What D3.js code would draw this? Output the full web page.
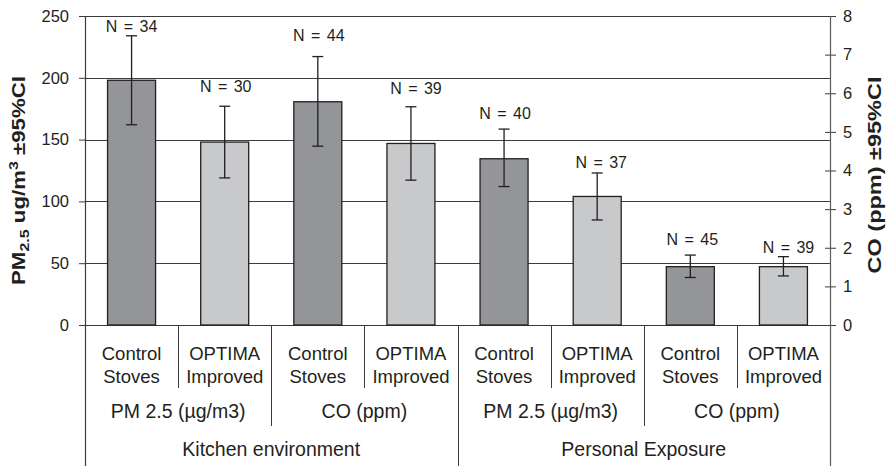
<!DOCTYPE html>
<html>
<head>
<meta charset="utf-8">
<script src="https://cdn.jsdelivr.net/npm/d3@7"></script>
<style>
  html, body { margin: 0; padding: 0; background: #ffffff; }
  svg { display: block; font-family: "Liberation Sans", Arial, sans-serif; }
</style>
</head>
<body>
<svg id="chart" width="886" height="466"></svg>
<script>
// ---------------- DATA ----------------
const stoveLabels = [
  ["Control", "Stoves"], ["OPTIMA", "Improved"],
  ["Control", "Stoves"], ["OPTIMA", "Improved"],
  ["Control", "Stoves"], ["OPTIMA", "Improved"],
  ["Control", "Stoves"], ["OPTIMA", "Improved"]
];
const stoveType = ["control", "optima", "control", "optima", "control", "optima", "control", "optima"];
const pollutantGroups = ["PM 2.5 (µg/m3)", "CO (ppm)", "PM 2.5 (µg/m3)", "CO (ppm)"];
const settingGroups = ["Kitchen environment", "Personal Exposure"];
const valueAxis = ["left", "left", "right", "right", "left", "left", "right", "right"];
const meanValues = [198, 148, 5.78, 4.70, 134.5, 104, 1.51, 1.51];
const ciLower    = [162, 119, 4.63, 3.75, 112, 85, 1.23, 1.27];
const ciUpper    = [234, 177, 6.95, 5.65, 158.5, 123, 1.81, 1.77];
const sampleSizes = [34, 30, 44, 39, 40, 37, 45, 39];
const leftTicks = [0, 50, 100, 150, 200, 250];
const rightTicks = [0, 1, 2, 3, 4, 5, 6, 7, 8];

// ---------------- LAYOUT ----------------
const L = 85, R = 830, T = 16, B = 325, BOTTOM = 466;
const labelGap = [4, 14, 16, 13, 10, 5, 10, 4];   // px above CI whisker
const labelNudge = [0, 1, 1, 5, 1, 4, 2, 5];     // px horizontal nudge
const ink = "#231f20";

const svg = d3.select("#chart");
const x = d3.scaleBand().domain(d3.range(meanValues.length)).range([L, R]).padding(0);
const yL = d3.scaleLinear().domain([0, 250]).range([B, T]);
const yR = d3.scaleLinear().domain([0, 8]).range([B, T]);
const yFor = i => valueAxis[i] === "left" ? yL : yR;
const barW = 48;
const fills = { control: "#949599", optima: "#c8c9cb" };

// gridlines (left axis ticks)
svg.append("g").selectAll("line").data(leftTicks).join("line")
  .attr("x1", L).attr("x2", R)
  .attr("y1", d => Math.round(yL(d)) + 0.5).attr("y2", d => Math.round(yL(d)) + 0.5)
  .attr("stroke", "#3c3c3c").attr("stroke-width", 1);

// bars
const idx = d3.range(meanValues.length);
svg.append("g").selectAll("rect").data(idx).join("rect")
  .attr("x", i => x(i) + (x.bandwidth() - barW) / 2)
  .attr("width", barW)
  .attr("y", i => yFor(i)(meanValues[i]))
  .attr("height", i => B - yFor(i)(meanValues[i]))
  .attr("fill", i => fills[stoveType[i]])
  .attr("stroke", ink).attr("stroke-width", 1.3);

// error bars
const eb = svg.append("g").attr("stroke", ink).attr("stroke-width", 1.3);
idx.forEach(i => {
  const cx = x(i) + x.bandwidth() / 2, y = yFor(i);
  eb.append("line").attr("x1", cx).attr("x2", cx).attr("y1", y(ciLower[i])).attr("y2", y(ciUpper[i]));
  eb.append("line").attr("x1", cx - 5.5).attr("x2", cx + 5.5).attr("y1", y(ciLower[i])).attr("y2", y(ciLower[i]));
  eb.append("line").attr("x1", cx - 5.5).attr("x2", cx + 5.5).attr("y1", y(ciUpper[i])).attr("y2", y(ciUpper[i]));
});

// N labels
svg.append("g").selectAll("text").data(idx).join("text")
  .attr("x", i => x(i) + x.bandwidth() / 2 + labelNudge[i])
  .attr("y", i => yFor(i)(ciUpper[i]) - labelGap[i])
  .attr("text-anchor", "middle")
  .attr("font-size", 16).attr("word-spacing", "2px").attr("fill", ink)
  .text(i => "N = " + sampleSizes[i]);

// left axis
const gL = svg.append("g").attr("transform", `translate(${L},0)`)
  .call(d3.axisLeft(yL).tickValues(leftTicks).tickSize(6).tickSizeOuter(0).tickPadding(10));
gL.select(".domain").remove();
gL.selectAll(".tick line").attr("stroke", "#3c3c3c");
gL.selectAll(".tick text").attr("font-size", 16.5).attr("fill", ink).attr("font-family", "Liberation Sans, Arial, sans-serif");

// right axis
const gR = svg.append("g").attr("transform", `translate(${R},0)`)
  .call(d3.axisRight(yR).tickValues(rightTicks).tickSize(6).tickSizeOuter(0).tickPadding(7));
gR.select(".domain").remove();
gR.selectAll(".tick line").attr("x1", -5).attr("stroke", "#3c3c3c");
gR.selectAll(".tick text").attr("font-size", 16.5).attr("fill", ink).attr("font-family", "Liberation Sans, Arial, sans-serif");

// axis lines extending into the category table
svg.append("line").attr("x1", L + 0.5).attr("x2", L + 0.5).attr("y1", T).attr("y2", BOTTOM)
  .attr("stroke", "#3c3c3c").attr("stroke-width", 1.2);
svg.append("line").attr("x1", R + 0.5).attr("x2", R + 0.5).attr("y1", T).attr("y2", BOTTOM)
  .attr("stroke", "#5a5a5a").attr("stroke-width", 1.2);

// category separators
const bounds = d3.range(1, meanValues.length);
const sepEnd = k => (k % 4 === 0 ? BOTTOM : k % 2 === 0 ? 426 : 388);
svg.append("g").selectAll("line").data(bounds).join("line")
  .attr("x1", k => Math.round(x(k)) + 0.5).attr("x2", k => Math.round(x(k)) + 0.5)
  .attr("y1", B).attr("y2", k => sepEnd(k))
  .attr("stroke", "#3c3c3c").attr("stroke-width", 1);

// category labels
const catG = svg.append("g").attr("font-size", 18.5).attr("fill", ink).attr("text-anchor", "middle");
idx.forEach(i => {
  const cx = x(i) + x.bandwidth() / 2;
  catG.append("text").attr("x", cx).attr("y", 360).text(stoveLabels[i][0]);
  catG.append("text").attr("x", cx).attr("y", 383).text(stoveLabels[i][1]);
});
pollutantGroups.forEach((t, j) => {
  const cx = (x(2 * j) + x(2 * j + 1) + x.bandwidth()) / 2;
  catG.append("text").attr("x", cx).attr("y", 418).attr("font-size", 19.5).text(t);
});
settingGroups.forEach((t, j) => {
  const cx = (x(4 * j) + x(4 * j + 3) + x.bandwidth()) / 2;
  catG.append("text").attr("x", cx).attr("y", 456).attr("font-size", 19.5).text(t);
});

// axis titles
function fitTitle(g, target) {
  const t = g.select("text");
  const len = t.node().getComputedTextLength();
  t.attr("transform", `scale(${target / len},1)`);
}
const lt = svg.append("g").attr("transform", "translate(25,180.5) rotate(-90)");
const ltText = lt.append("text").attr("text-anchor", "middle").attr("font-weight", "bold")
  .attr("font-size", 18).attr("fill", ink);
ltText.append("tspan").text("PM");
ltText.append("tspan").attr("font-size", 13).attr("dy", 4).text("2.5");
ltText.append("tspan").attr("dy", -4).text(" ug/m");
ltText.append("tspan").attr("font-size", 13).attr("dy", -7).text("3");
ltText.append("tspan").attr("dy", 7).text(" ±95%CI");
fitTitle(lt, 209);

const rt = svg.append("g").attr("transform", "translate(881,175) rotate(-90)");
rt.append("text").attr("text-anchor", "middle").attr("font-weight", "bold")
  .attr("font-size", 18).attr("fill", ink).text("CO (ppm) ±95%CI");
fitTitle(rt, 197);
</script>
</body>
</html>
